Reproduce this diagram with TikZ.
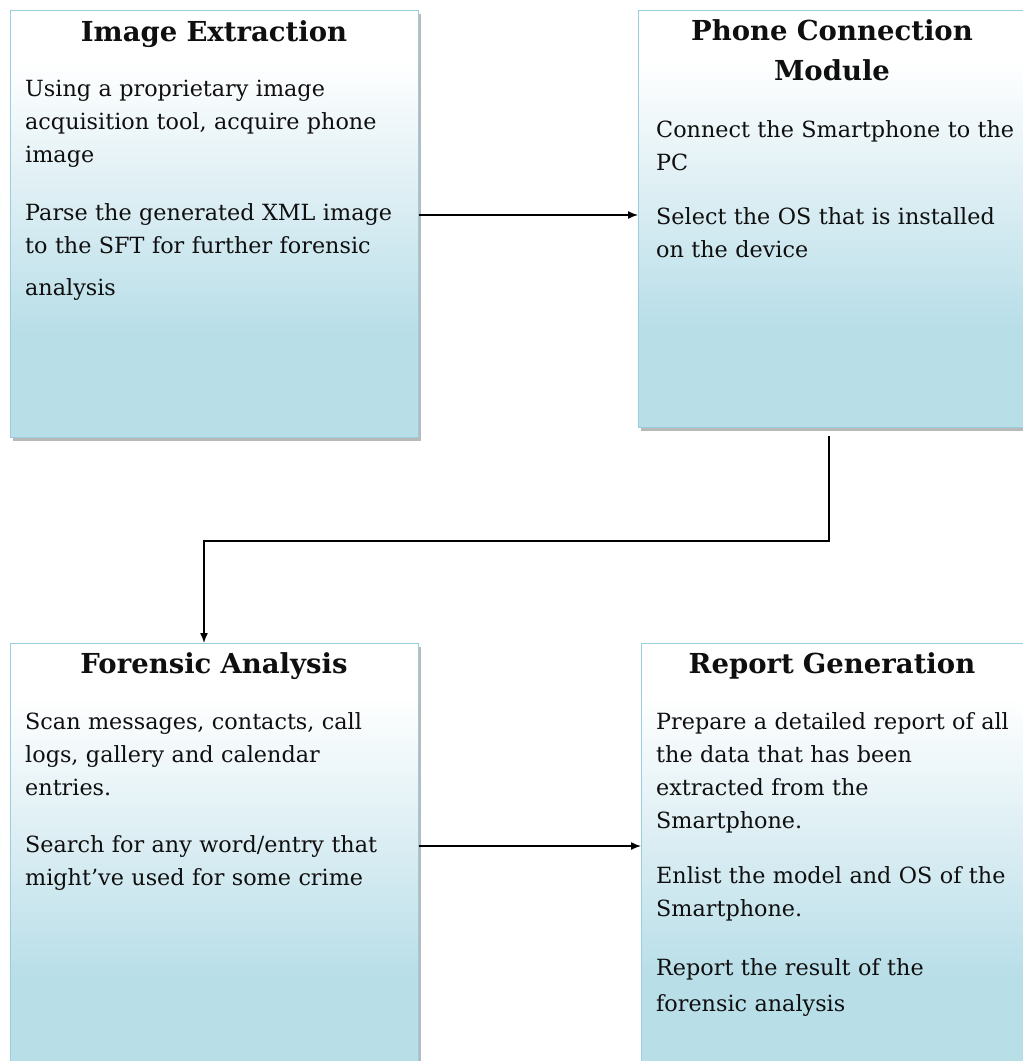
\documentclass[tikz,border=0pt]{standalone}
\usepackage{fontspec}
\setmainfont{DejaVu Serif}
\usetikzlibrary{shadows,arrows.meta,calc}

\definecolor{panelblue}{RGB}{184,222,232}
\definecolor{panelmid}{RGB}{218,237,243}
\definecolor{panelline}{RGB}{152,206,222}
\definecolor{inkcol}{RGB}{15,15,15}

% white at the top, fading into pale blue towards the bottom
% (the filled path spans 25bp..75bp of the shading)
\pgfdeclareverticalshading{panelfill}{100bp}{%
  color(0bp)=(panelblue); color(37bp)=(panelblue);
  color(52bp)=(panelmid);
  color(69bp)=(white); color(100bp)=(white)}

\tikzset{
  panel/.style={draw=panelline, line width=1.3pt, shade, shading=panelfill,
    anchor=north west, inner sep=0pt,
    drop shadow={shadow xshift=2pt, shadow yshift=-3pt, fill=black!50, opacity=.55}},
  head/.style={font=\bfseries\fontsize{27.5}{40}\selectfont, text=inkcol,
    anchor=base, align=center, text width=380pt, inner sep=0pt},
  body/.style={font=\fontsize{22.3}{33}\selectfont, text=inkcol,
    anchor=base west, align=left, text width=420pt, inner sep=0pt},
  conn/.style={draw=black, line width=1.4pt,
    -{Latex[length=10pt,width=8pt]}},
}

\begin{document}
\begin{tikzpicture}[x=1pt,y=-1pt]
\useasboundingbox (0,0) rectangle (1023,1061);

% the four module panels
\node[panel, minimum width=408pt, minimum height=427pt] (b1) at (10,10) {};
\node[panel, minimum width=388pt, minimum height=417pt] (b2) at (638,10) {};
\node[panel, minimum width=408pt, minimum height=440pt] (b3) at (10,643) {};
\node[panel, minimum width=385pt, minimum height=440pt] (b4) at (641,643) {};

% Image Extraction
\node[head] (t1) at (214,41) {Image Extraction};
\node[body] (p11) at (25,96) {Using a proprietary image\\acquisition tool, acquire phone\\image};
\node[body] (p12) at (25,220) {Parse the generated XML image\\to the SFT for further forensic\\[9pt]analysis};

% Phone Connection Module
\node[head] (t2) at (832,40) {Phone Connection\\Module};
\node[body] (p21) at (656,137) {Connect the Smartphone to the\\PC};
\node[body] (p22) at (656,224) {Select the OS that is installed\\on the device};

% Forensic Analysis
\node[head] (t3) at (214,673) {Forensic Analysis};
\node[body] (p31) at (25,729) {Scan messages, contacts, call\\logs, gallery and calendar\\entries.};
\node[body] (p32) at (25,852) {Search for any word/entry that\\might've used for some crime};

% Report Generation
\node[head] (t4) at (832,673) {Report Generation};
\node[body] (p41) at (656,729) {Prepare a detailed report of all\\the data that has been\\extracted from the\\Smartphone.};
\node[body] (p42) at (656,883) {Enlist the model and OS of the\\Smartphone.};
\node[body] (p43) at (656,975) {Report the result of the\\[3pt]forensic analysis};

% connectors
\coordinate (r1) at (0,215);
\coordinate (k1) at (829,541);
\coordinate (k2) at (204,541);
\coordinate (r2) at (0,846);
\draw[conn] (b1.east |- r1) -- (b2.west |- r1);
\draw[conn] ($(b2.south -| k1)+(0,8)$) -- (k1) -- (k2) -- (b3.north -| k2);
\draw[conn] (b3.east |- r2) -- (b4.west |- r2);
\end{tikzpicture}
\end{document}
